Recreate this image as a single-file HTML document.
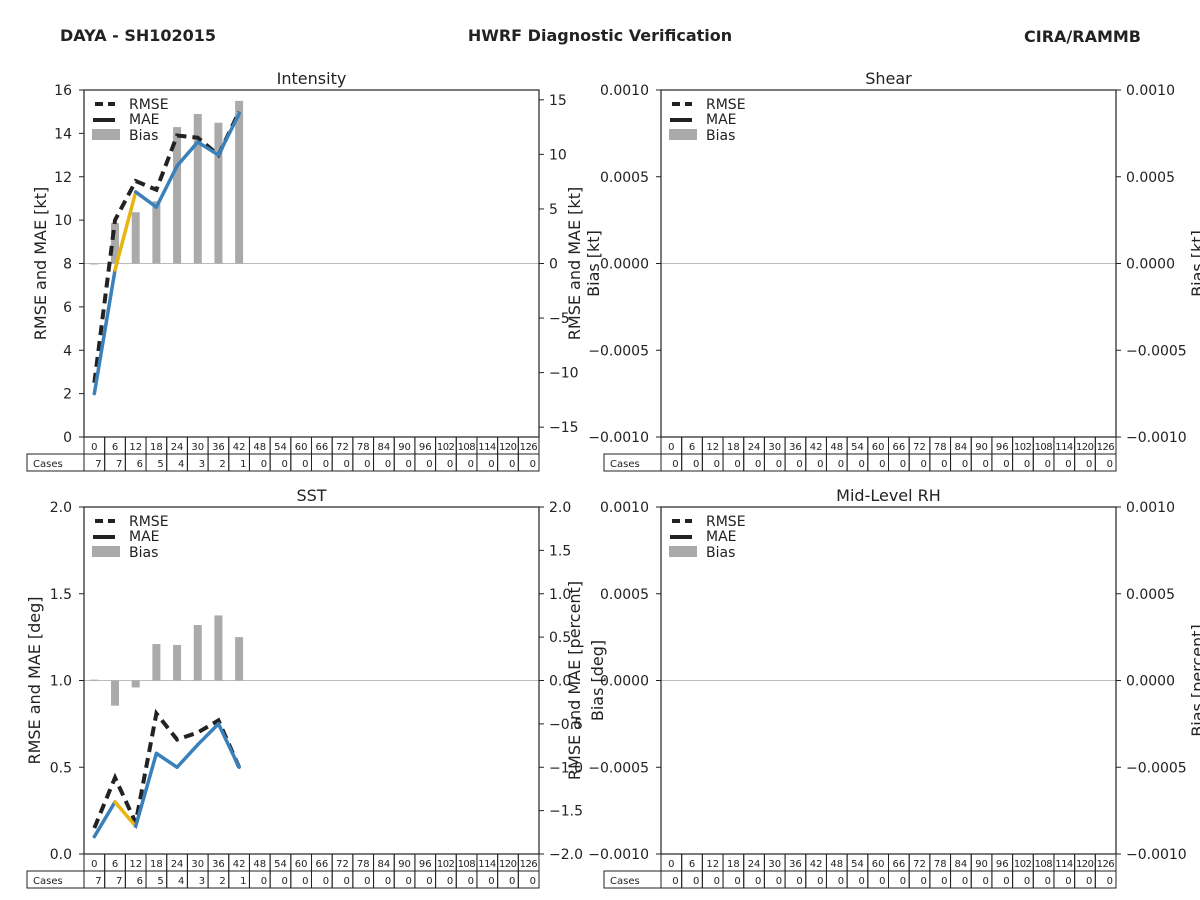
<!DOCTYPE html>
<html><head><meta charset="utf-8"><style>
body{margin:0;background:#fff;}
svg{display:block;font-family:"DejaVu Sans","Liberation Sans",sans-serif;}
</style></head><body>
<svg id="chart" width="1200" height="900" viewBox="0 0 1200 900" xmlns="http://www.w3.org/2000/svg">
<rect width="1200" height="900" fill="#fff"/>
<text x="60" y="41" font-size="16" font-weight="bold" fill="#222">DAYA - SH102015</text>
<text x="600" y="41" font-size="16" font-weight="bold" fill="#222" text-anchor="middle">HWRF Diagnostic Verification</text>
<text x="1141" y="42" font-size="16" font-weight="bold" fill="#222" text-anchor="end">CIRA/RAMMB</text>
</svg>
<script>
const leadTimes=[0,6,12,18,24,30,36,42,48,54,60,66,72,78,84,90,96,102,108,114,120,126];
const casesA=[7,7,6,5,4,3,2,1,0,0,0,0,0,0,0,0,0,0,0,0,0,0];
const casesEmpty=[0,0,0,0,0,0,0,0,0,0,0,0,0,0,0,0,0,0,0,0,0,0];
const intRmse=[2.5,10.0,11.8,11.4,13.9,13.8,13.0,15.0];
const intMae=[2.0,7.7,11.3,10.6,12.5,13.6,13.0,14.9];
const intBias=[0.0,3.7,4.7,5.7,12.5,13.7,12.9,14.9];
const sstRmse=[0.15,0.44,0.18,0.81,0.66,0.70,0.77,0.50];
const sstMae=[0.10,0.30,0.16,0.58,0.50,0.63,0.75,0.50];
const sstBias=[0.01,-0.29,-0.08,0.42,0.41,0.64,0.75,0.50];
const intLeftTicks=["0","2","4","6","8","10","12","14","16"];
const intRightTicks=["−15","−10","−5","0","5","10","15"];
const sstLeftTicks=["0.0","0.5","1.0","1.5","2.0"];
const sstRightTicks=["−2.0","−1.5","−1.0","−0.5","0.0","0.5","1.0","1.5","2.0"];
const emptyTicks=["−0.0010","−0.0005","0.0000","0.0005","0.0010"];

const NS="http://www.w3.org/2000/svg";
const svg=document.getElementById('chart');
function mk(tag,attrs,parent,txt){const e=document.createElementNS(NS,tag);for(const k in attrs)e.setAttribute(k,attrs[k]);if(txt!==undefined)e.textContent=txt;(parent||svg).appendChild(e);return e;}

function panel(p){
  const g=mk('g',{});
  
  
  const x0=p.x,x1=p.x+455,y0=p.y,y1=p.y+347,W=455,H=347;
  const n=leadTimes.length,cw=W/n;
  const cx=i=>x0+cw*(i+0.5);
  const yL=v=>y1-(v-p.lmin)/(p.lmax-p.lmin)*H;
  const yR=v=>y1-(v-p.rmin)/(p.rmax-p.rmin)*H;
  const t=mk('text',{x:(x0+x1)/2,y:y0-6,'font-size':16,fill:'#222','text-anchor':'middle'},g,p.title);
  
  
  const zl=mk('line',{x1:x0,x2:x1,y1:yR(0),y2:yR(0),stroke:'#bbb','stroke-width':1},g);
  
  
  (p.bias||[]).forEach((v,i)=>{
    const a=yR(0),b=yR(v);
    const r=mk('rect',{x:cx(i)-4,y:Math.min(a,b),width:8,height:Math.max(Math.abs(a-b),1),fill:'#aaa'},g);
    
    
  });
  if(p.rmse){
    const pts=p.rmse.map((v,i)=>cx(i)+','+yL(v)).join(' ');
    const l=mk('polyline',{points:pts,fill:'none',stroke:'#222','stroke-width':4,'stroke-dasharray':'10,6'},g);
    
    
    for(let i=0;i<p.mae.length-1;i++){
      const s=mk('line',{x1:cx(i),y1:yL(p.mae[i]),x2:cx(i+1),y2:yL(p.mae[i+1]),stroke:i===1?'#e8b410':'#3a80ba','stroke-width':3.5,'stroke-linecap':'round'},g);
      
      
    }
  }
  const fr=mk('rect',{x:x0,y:y0,width:W,height:H,fill:'none',stroke:'#222','stroke-width':1.2},g);
  
  
  p.lt.forEach((s,i)=>{const v=p.lmin+(p.lmax-p.lmin)*i/(p.lt.length-1);const y=yL(v);
    mk('line',{x1:x0-5,x2:x0,y1:y,y2:y,stroke:'#222'},g);
    const e=mk('text',{x:x0-12,y:y+5,'font-size':14,fill:'#222','text-anchor':'end'},g,s);
    
    });
  p.rt.forEach((s,i)=>{const v=p.rvals[i];const y=yR(v);
    mk('line',{x1:x1,x2:x1+5,y1:y,y2:y,stroke:'#222'},g);
    const e=mk('text',{x:x1+10,y:y+5,'font-size':14,fill:'#222'},g,s);
    
    });
  const lx=p.lx||(x0-44),ly=(y0+y1)/2;
  const al=mk('text',{x:lx,y:ly,'font-size':16,fill:'#222','text-anchor':'middle',transform:`rotate(-90 ${lx} ${ly})`},g,p.ylab);
  
  
  p.rlabs.forEach(r=>{const e=mk('text',{x:r[0],y:ly,'font-size':16,fill:'#222','text-anchor':'middle',transform:`rotate(-90 ${r[0]} ${ly})`},g,r[1]);
    
    });
  const lg=mk('g',{},g);
  
  
  mk('line',{x1:x0+11,x2:x0+31,y1:y0+14,y2:y0+14,stroke:'#222','stroke-width':4,'stroke-dasharray':'8,5'},lg);
  mk('text',{x:x0+45,y:y0+19,'font-size':14,fill:'#222'},lg,'RMSE');
  mk('line',{x1:x0+9,x2:x0+31,y1:y0+30,y2:y0+30,stroke:'#222','stroke-width':4},lg);
  mk('text',{x:x0+45,y:y0+34,'font-size':14,fill:'#222'},lg,'MAE');
  mk('rect',{x:x0+8,y:y0+39,width:28,height:11,fill:'#aaa'},lg);
  mk('text',{x:x0+45,y:y0+50,'font-size':14,fill:'#222'},lg,'Bias');
  const tb=mk('g',{},g);
  
  
  mk('rect',{x:p.x-57,y:y1+17,width:57,height:17,fill:'none',stroke:'#222'},tb);
  mk('text',{x:p.x-51,y:y1+30,'font-size':10,fill:'#222'},tb,'Cases');
  leadTimes.forEach((lt,i)=>{
    const x=x0+cw*i;
    mk('rect',{x:x,y:y1,width:cw,height:17,fill:'none',stroke:'#222'},tb);
    mk('text',{x:cx(i),y:y1+13,'font-size':10,fill:'#222','text-anchor':'middle','textLength':String(lt).length>2?18:undefined},tb,String(lt));
    mk('rect',{x:x,y:y1+17,width:cw,height:17,fill:'none',stroke:'#222'},tb);
    mk('text',{x:x+cw-3,y:y1+30,'font-size':10,fill:'#222','text-anchor':'end'},tb,String(p.cases[i]));
  });
}
panel({name:'intensity-panel',title:'Intensity',x:84,y:90,lmin:0,lmax:16,rmin:-15.9,rmax:15.9,lt:intLeftTicks,rt:intRightTicks,rvals:[-15,-10,-5,0,5,10,15],
  rmse:intRmse,mae:intMae,bias:intBias,cases:casesA,ylab:'RMSE and MAE [kt]',lx:46,rlabs:[[580,'RMSE and MAE [kt]'],[599,'Bias [kt]']]});
panel({name:'shear-panel',title:'Shear',x:661,y:90,lmin:-0.001,lmax:0.001,rmin:-0.001,rmax:0.001,lt:emptyTicks,rt:emptyTicks,rvals:[-0.001,-0.0005,0,0.0005,0.001],
  cases:casesEmpty,ylab:'',rlabs:[[1203,'Bias [kt]']]});
panel({name:'sst-panel',title:'SST',x:84,y:507,lmin:0,lmax:2,rmin:-2,rmax:2,lt:sstLeftTicks,rt:sstRightTicks,rvals:[-2,-1.5,-1,-0.5,0,0.5,1,1.5,2],
  rmse:sstRmse,mae:sstMae,bias:sstBias,cases:casesA,ylab:'RMSE and MAE [deg]',lx:40,rlabs:[[580,'RMSE and MAE [percent]'],[603,'Bias [deg]']]});
panel({name:'midlevel-rh-panel',title:'Mid-Level RH',x:661,y:507,lmin:-0.001,lmax:0.001,rmin:-0.001,rmax:0.001,lt:emptyTicks,rt:emptyTicks,rvals:[-0.001,-0.0005,0,0.0005,0.001],
  cases:casesEmpty,ylab:'',rlabs:[[1203,'Bias [percent]']]});
</script>
</body></html>
